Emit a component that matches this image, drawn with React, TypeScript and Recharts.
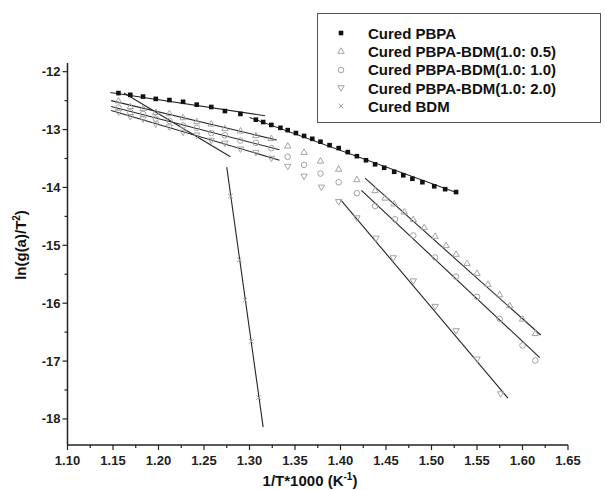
import React from 'react';
import { ComposedChart, Scatter, Line, XAxis, YAxis, Legend } from 'recharts';

// 1/T*1000 vs ln(g(a)/T^2)
const pbpaPts: [number, number][] = [
  [1.156, -12.37], [1.169, -12.40], [1.183, -12.43], [1.197, -12.47], [1.212, -12.49],
  [1.227, -12.52], [1.242, -12.57], [1.258, -12.61], [1.273, -12.68], [1.290, -12.73],
  [1.307, -12.83], [1.315, -12.87], [1.324, -12.92], [1.334, -12.97], [1.342, -13.01],
  [1.351, -13.06], [1.360, -13.11], [1.369, -13.16], [1.378, -13.21], [1.388, -13.27],
  [1.398, -13.32], [1.408, -13.39], [1.418, -13.46], [1.428, -13.53], [1.438, -13.60],
  [1.448, -13.66], [1.459, -13.73], [1.469, -13.79], [1.479, -13.85], [1.490, -13.91],
  [1.503, -13.98], [1.515, -14.03], [1.527, -14.08],
];
const pbpaFit1: [number, number][] = [[1.147, -12.36], [1.317, -12.76]];
const pbpaFit2: [number, number][] = [[1.300, -12.79], [1.528, -14.09]];

const bdm05Pts: [number, number][] = [
  [1.156, -12.50], [1.169, -12.60], [1.183, -12.63], [1.197, -12.70], [1.212, -12.72],
  [1.227, -12.79], [1.242, -12.86], [1.258, -12.90], [1.273, -12.98], [1.290, -13.02],
  [1.307, -13.10], [1.324, -13.15],
  [1.342, -13.28], [1.360, -13.39], [1.378, -13.54], [1.398, -13.68], [1.418, -13.86],
  [1.438, -14.05], [1.449, -14.18], [1.459, -14.28], [1.470, -14.42], [1.480, -14.55],
  [1.492, -14.69], [1.504, -14.84], [1.516, -15.00], [1.527, -15.15], [1.539, -15.31],
  [1.550, -15.48], [1.562, -15.67], [1.575, -15.85], [1.586, -16.04], [1.600, -16.27],
  [1.614, -16.52],
];
const bdm05Fit1: [number, number][] = [[1.148, -12.50], [1.330, -13.18]];
const bdm05Fit2: [number, number][] = [[1.427, -13.84], [1.620, -16.55]];

const bdm10Pts: [number, number][] = [
  [1.156, -12.62], [1.169, -12.70], [1.183, -12.73], [1.197, -12.81], [1.212, -12.85],
  [1.227, -12.93], [1.242, -12.97], [1.258, -13.06], [1.273, -13.10], [1.290, -13.19],
  [1.307, -13.23], [1.324, -13.32],
  [1.342, -13.47], [1.360, -13.61], [1.378, -13.76], [1.398, -13.91], [1.418, -14.10],
  [1.438, -14.32], [1.460, -14.55], [1.480, -14.83], [1.504, -15.21], [1.527, -15.54],
  [1.550, -15.89], [1.575, -16.27], [1.600, -16.73], [1.614, -16.99],
];
const bdm10Fit1: [number, number][] = [[1.148, -12.60], [1.333, -13.35]];
const bdm10Fit2: [number, number][] = [[1.423, -14.05], [1.619, -16.94]];

const bdm20Pts: [number, number][] = [
  [1.156, -12.70], [1.169, -12.78], [1.183, -12.82], [1.197, -12.91], [1.212, -12.96],
  [1.227, -13.05], [1.242, -13.10], [1.258, -13.19], [1.273, -13.24], [1.290, -13.34],
  [1.307, -13.40], [1.324, -13.50],
  [1.342, -13.64], [1.360, -13.81], [1.379, -14.00],
  [1.398, -14.25], [1.418, -14.53], [1.439, -14.88], [1.458, -15.22], [1.480, -15.62],
  [1.504, -16.06], [1.527, -16.48], [1.550, -16.97], [1.576, -17.57],
];
const bdm20Fit1: [number, number][] = [[1.148, -12.67], [1.333, -13.53]];
const bdm20Fit2: [number, number][] = [[1.400, -14.21], [1.584, -17.64]];

const bdmPts: [number, number][] = [
  [1.279, -14.15], [1.289, -15.25], [1.295, -15.95], [1.302, -16.66], [1.310, -17.63],
];
const bdmFit1: [number, number][] = [[1.162, -12.37], [1.279, -13.47]];
const bdmFit2: [number, number][] = [[1.275, -13.65], [1.315, -18.14]];

const xTicks = [
  1.1, 1.125, 1.15, 1.175, 1.2, 1.225, 1.25, 1.275, 1.3, 1.325, 1.35, 1.375, 1.4,
  1.425, 1.45, 1.475, 1.5, 1.525, 1.55, 1.575, 1.6, 1.625, 1.65,
];
const yTicks = [-18, -17.5, -17, -16.5, -16, -15.5, -15, -14.5, -14, -13.5, -13, -12.5, -12];

const legendNames = [
  'Cured PBPA',
  'Cured PBPA-BDM(1.0: 0.5)',
  'Cured PBPA-BDM(1.0: 1.0)',
  'Cured PBPA-BDM(1.0: 2.0)',
  'Cured BDM',
];

const toXY = (pts: [number, number][]) => pts.map(([x, y]) => ({ x, y }));

const FONT = '"Liberation Sans", Arial, Helvetica, sans-serif';
const MARK = '#a3a3a3';
const LINE = '#262626';

const Square = ({ cx, cy }: any) => <rect x={cx - 2.3} y={cy - 2.3} width={4.6} height={4.6} fill="#111" />;
const TriUp = ({ cx, cy }: any) => (
  <polygon points={`${cx},${cy - 3.2} ${cx + 3.2},${cy + 2.3} ${cx - 3.2},${cy + 2.3}`} fill="none" stroke={MARK} strokeWidth={1} />
);
const Circ = ({ cx, cy }: any) => <circle cx={cx} cy={cy} r={2.8} fill="none" stroke={MARK} strokeWidth={1} />;
const TriDown = ({ cx, cy }: any) => (
  <polygon points={`${cx},${cy + 3.2} ${cx + 3.2},${cy - 2.3} ${cx - 3.2},${cy - 2.3}`} fill="none" stroke={MARK} strokeWidth={1} />
);
const XMark = ({ cx, cy }: any) => (
  <g stroke={MARK} strokeWidth={1}>
    <line x1={cx - 2.3} y1={cy - 2.3} x2={cx + 2.3} y2={cy + 2.3} />
    <line x1={cx - 2.3} y1={cy + 2.3} x2={cx + 2.3} y2={cy - 2.3} />
  </g>
);

const markers = [Square, TriUp, Circ, TriDown, XMark];

const XTick = ({ x, y, payload }: any) => {
  const v = payload.value;
  const major = Math.round(v * 1000) % 50 === 0;
  return (
    <g>
      <line x1={x} y1={y} x2={x} y2={y + (major ? 5 : 3)} stroke="#222" strokeWidth={1.2} />
      {major && (
        <text x={x} y={y + 20} textAnchor="middle" fontFamily={FONT} fontWeight="bold" fontSize={13} fill="#222">
          {v.toFixed(2)}
        </text>
      )}
    </g>
  );
};

const YTick = ({ x, y, payload }: any) => {
  const v = payload.value;
  const major = Number.isInteger(v);
  return (
    <g>
      <line x1={x - (major ? 5 : 3)} y1={y} x2={x} y2={y} stroke="#222" strokeWidth={1.2} />
      {major && (
        <text x={x - 7} y={y + 4.5} textAnchor="end" fontFamily={FONT} fontWeight="bold" fontSize={13} fill="#222">
          {v}
        </text>
      )}
    </g>
  );
};

const XLabel = () => (
  <text x={310} y={486} textAnchor="middle" fontFamily={FONT} fontWeight="bold" fontSize={15} fill="#111">
    1/T*1000 (K
    <tspan dy={-6} fontSize={10}>-1</tspan>
    <tspan dy={6}>)</tspan>
  </text>
);

const YLabel = () => (
  <text x={26} y={245} transform="rotate(-90 26 245)" textAnchor="middle" fontFamily={FONT} fontWeight="bold" fontSize={15} fill="#111">
    ln(g(a)/T
    <tspan dy={-6} fontSize={10}>2</tspan>
    <tspan dy={6}>)</tspan>
  </text>
);

const LegendBox = () => (
  <div
    style={{
      width: 284,
      height: 110,
      boxSizing: 'border-box',
      border: '1px solid #555',
      background: '#fff',
      paddingTop: 10,
      fontFamily: FONT,
      fontWeight: 'bold',
      fontSize: 15,
      color: '#111',
    }}
  >
    {legendNames.map((name, i) => {
      const M = markers[i];
      return (
        <div key={name} style={{ display: 'flex', alignItems: 'center', height: 18.3 }}>
          <svg width={10} height={10} style={{ marginLeft: 18, marginRight: 22 }}>
            <M cx={5} cy={5} />
          </svg>
          <span>{name}</span>
        </div>
      );
    })}
  </div>
);

const fitStyle = { stroke: LINE, strokeWidth: 1.1 };

const App: React.FC = () => {
  const fits = [pbpaFit1, pbpaFit2, bdm05Fit1, bdm05Fit2, bdm10Fit1, bdm10Fit2, bdm20Fit1, bdm20Fit2, bdmFit1, bdmFit2];
  const series = [pbpaPts, bdm05Pts, bdm10Pts, bdm20Pts, bdmPts];
  return (
    <div style={{ position: 'absolute', left: 0, top: 0, width: 605, height: 490, background: '#fff' }}>
      <ComposedChart width={605} height={490} margin={{ top: 63, right: 37, bottom: 0, left: 7.5 }}>
        <XAxis
          type="number"
          dataKey="x"
          domain={[1.1, 1.65]}
          ticks={xTicks}
          interval={0}
          allowDataOverflow
          height={45}
          tickSize={0}
          tickMargin={0}
          tick={<XTick />}
          axisLine={{ stroke: '#222', strokeWidth: 1.5 }}
          label={<XLabel />}
        />
        <YAxis
          type="number"
          dataKey="y"
          domain={[-18.45, -11.85]}
          ticks={yTicks}
          interval={0}
          allowDataOverflow
          width={60}
          tickSize={0}
          tickMargin={0}
          tick={<YTick />}
          axisLine={{ stroke: '#222', strokeWidth: 1.5 }}
          label={<YLabel />}
        />
        {fits.map((f, i) => (
          <Line
            key={`fit-${i}`}
            data={toXY(f)}
            dataKey="y"
            type="linear"
            dot={false}
            activeDot={false}
            legendType="none"
            {...fitStyle}
            isAnimationActive={false}
          />
        ))}
        {series.map((s, i) => {
          const M = markers[i];
          return (
            <Scatter
              key={legendNames[i]}
              name={legendNames[i]}
              data={toXY(s)}
              shape={(p: any) => <M cx={p.cx} cy={p.cy} />}
              isAnimationActive={false}
            />
          );
        })}
        <Legend
          layout="vertical"
          align="center"
          verticalAlign="middle"
          content={<LegendBox />}
          wrapperStyle={{ position: 'absolute', top: 13, left: 317, width: 284, height: 110 }}
        />
      </ComposedChart>
    </div>
  );
};

export default App;
